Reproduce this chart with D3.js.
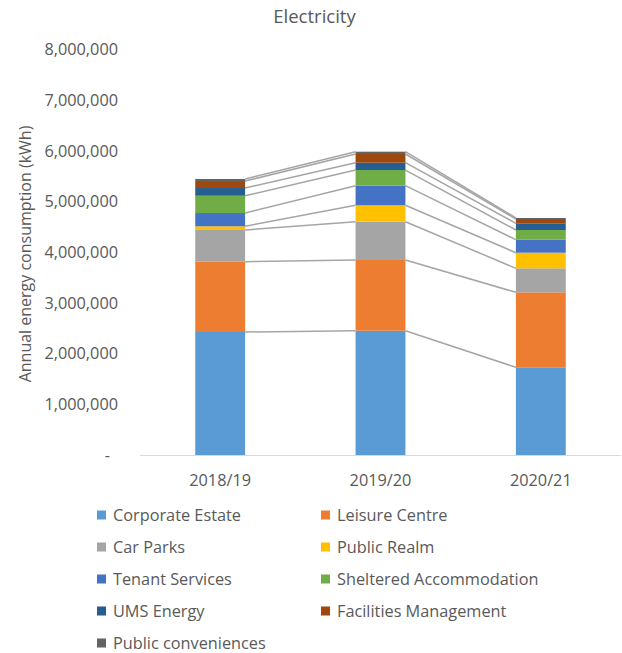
<!DOCTYPE html>
<html>
<head>
<meta charset="utf-8">
<script src="https://cdn.jsdelivr.net/npm/d3@7/dist/d3.min.js"></script>
<style>
  body { margin: 0; background: #fff; }
  text { font-family: "Open Sans", "Noto Sans", sans-serif; fill: #595959; }
</style>
</head>
<body>
<svg role="chart"></svg>
<script>
(function(){

  // data (kWh)
  var years = ['2018/19', '2019/20', '2020/21'];
  var seriesNames = ['Corporate Estate', 'Leisure Centre', 'Car Parks', 'Public Realm',
    'Tenant Services', 'Sheltered Accommodation', 'UMS Energy', 'Facilities Management',
    'Public conveniences'];
  var corporateEstate      = [2427000, 2452000, 1730000];
  var leisureCentre        = [1386000, 1395000, 1479000];
  var carParks             = [626000, 756000, 474000];
  var publicRealm          = [73000, 323000, 308000];
  var tenantServices       = [262000, 387000, 257000];
  var shelteredAccom       = [341000, 309000, 191000];
  var umsEnergy            = [152000, 145000, 132000];
  var facilitiesManagement = [138000, 171000, 85000];
  var publicConveniences   = [40000, 46000, 20000];
  var yTicks = [0, 1000000, 2000000, 3000000, 4000000, 5000000, 6000000, 7000000, 8000000];
  var colors = ['#5B9BD5', '#ED7D31', '#A5A5A5', '#FFC000', '#4472C4', '#70AD47',
    '#255E91', '#9E480E', '#636363'];

  var values = [corporateEstate, leisureCentre, carParks, publicRealm, tenantServices,
    shelteredAccom, umsEnergy, facilitiesManagement, publicConveniences];

  var rows = years.map(function(y, i) {
    var r = { year: y };
    seriesNames.forEach(function(s, j) { r[s] = values[j][i]; });
    return r;
  });

  var width = 622, height = 653;
  var margin = { top: 49.5, left: 140, right: 1, bottom: 198 };

  var svg = d3.select('[role="chart"]')
    .attr('width', width)
    .attr('height', height);

  var x = d3.scaleBand()
    .domain(years)
    .range([margin.left, width - margin.right])
    .paddingInner(0.689)
    .paddingOuter(0.3445);

  var y = d3.scaleLinear()
    .domain([0, 8000000])
    .range([height - margin.bottom, margin.top]);

  var stack = d3.stack().keys(seriesNames);
  var layers = stack(rows);

  // title
  svg.append('text')
    .attr('x', 314.5)
    .attr('y', 23)
    .attr('text-anchor', 'middle')
    .style('font-size', '18.5px')
    .text('Electricity');

  // y axis labels
  var fmt = d3.format(',');
  svg.append('g')
    .selectAll('text')
    .data(yTicks)
    .enter()
    .append('text')
    .attr('x', function(d) { return d === 0 ? 110 : 118; })
    .attr('y', function(d) { return y(d); })
    .attr('dy', '0.35em')
    .attr('text-anchor', 'end')
    .style('font-size', '16.3px')
    .text(function(d) { return d === 0 ? '-' : fmt(d); });

  svg.append('text')
    .attr('transform', 'translate(31,' + 254 + ') rotate(-90)')
    .attr('text-anchor', 'middle')
    .style('font-size', '16px')
    .text('Annual energy consumption (kWh)');

  // series lines between bars
  var lineG = svg.append('g');
  layers.forEach(function(layer) {
    for (var i = 0; i < layer.length - 1; i++) {
      lineG.append('line')
        .attr('x1', x(years[i]) + x.bandwidth())
        .attr('y1', y(layer[i][1]))
        .attr('x2', x(years[i + 1]))
        .attr('y2', y(layer[i + 1][1]))
        .attr('stroke', '#A5A5A5')
        .attr('stroke-width', 1.5);
    }
  });

  // bars
  svg.append('g')
    .selectAll('g')
    .data(layers)
    .enter()
    .append('g')
    .attr('fill', function(d, i) { return colors[i]; })
    .selectAll('rect')
    .data(function(d) { return d; })
    .enter()
    .append('rect')
    .attr('x', function(d) { return x(d.data.year); })
    .attr('width', x.bandwidth())
    .attr('y', function(d) { return y(d[1]); })
    .attr('height', function(d) { return y(d[0]) - y(d[1]); });

  // x axis line
  svg.append('line')
    .attr('x1', margin.left)
    .attr('x2', width - margin.right)
    .attr('y1', y(0) + 0.5)
    .attr('y2', y(0) + 0.5)
    .attr('stroke', '#D9D9D9')
    .attr('stroke-width', 1);

  svg.append('g')
    .selectAll('text')
    .data(years)
    .enter()
    .append('text')
    .attr('x', function(d) { return x(d) + x.bandwidth() / 2; })
    .attr('y', 480)
    .attr('dy', '0.35em')
    .attr('text-anchor', 'middle')
    .style('font-size', '16.3px')
    .text(function(d) { return d; });

  // legend, two columns
  var legend = svg.append('g')
    .selectAll('g')
    .data(seriesNames)
    .enter()
    .append('g')
    .attr('transform', function(d, i) {
      var col = i % 2, row = Math.floor(i / 2);
      return 'translate(' + (col === 0 ? 97 : 321) + ',' + (515 + row * 32) + ')';
    });

  legend.append('rect')
    .attr('x', 0)
    .attr('y', -4.5)
    .attr('width', 9)
    .attr('height', 9)
    .attr('fill', function(d, i) { return colors[i]; });

  legend.append('text')
    .attr('x', 16)
    .attr('dy', '0.35em')
    .style('font-size', '16.3px')
    .text(function(d) { return d; });

})();
</script>
</body>
</html>
